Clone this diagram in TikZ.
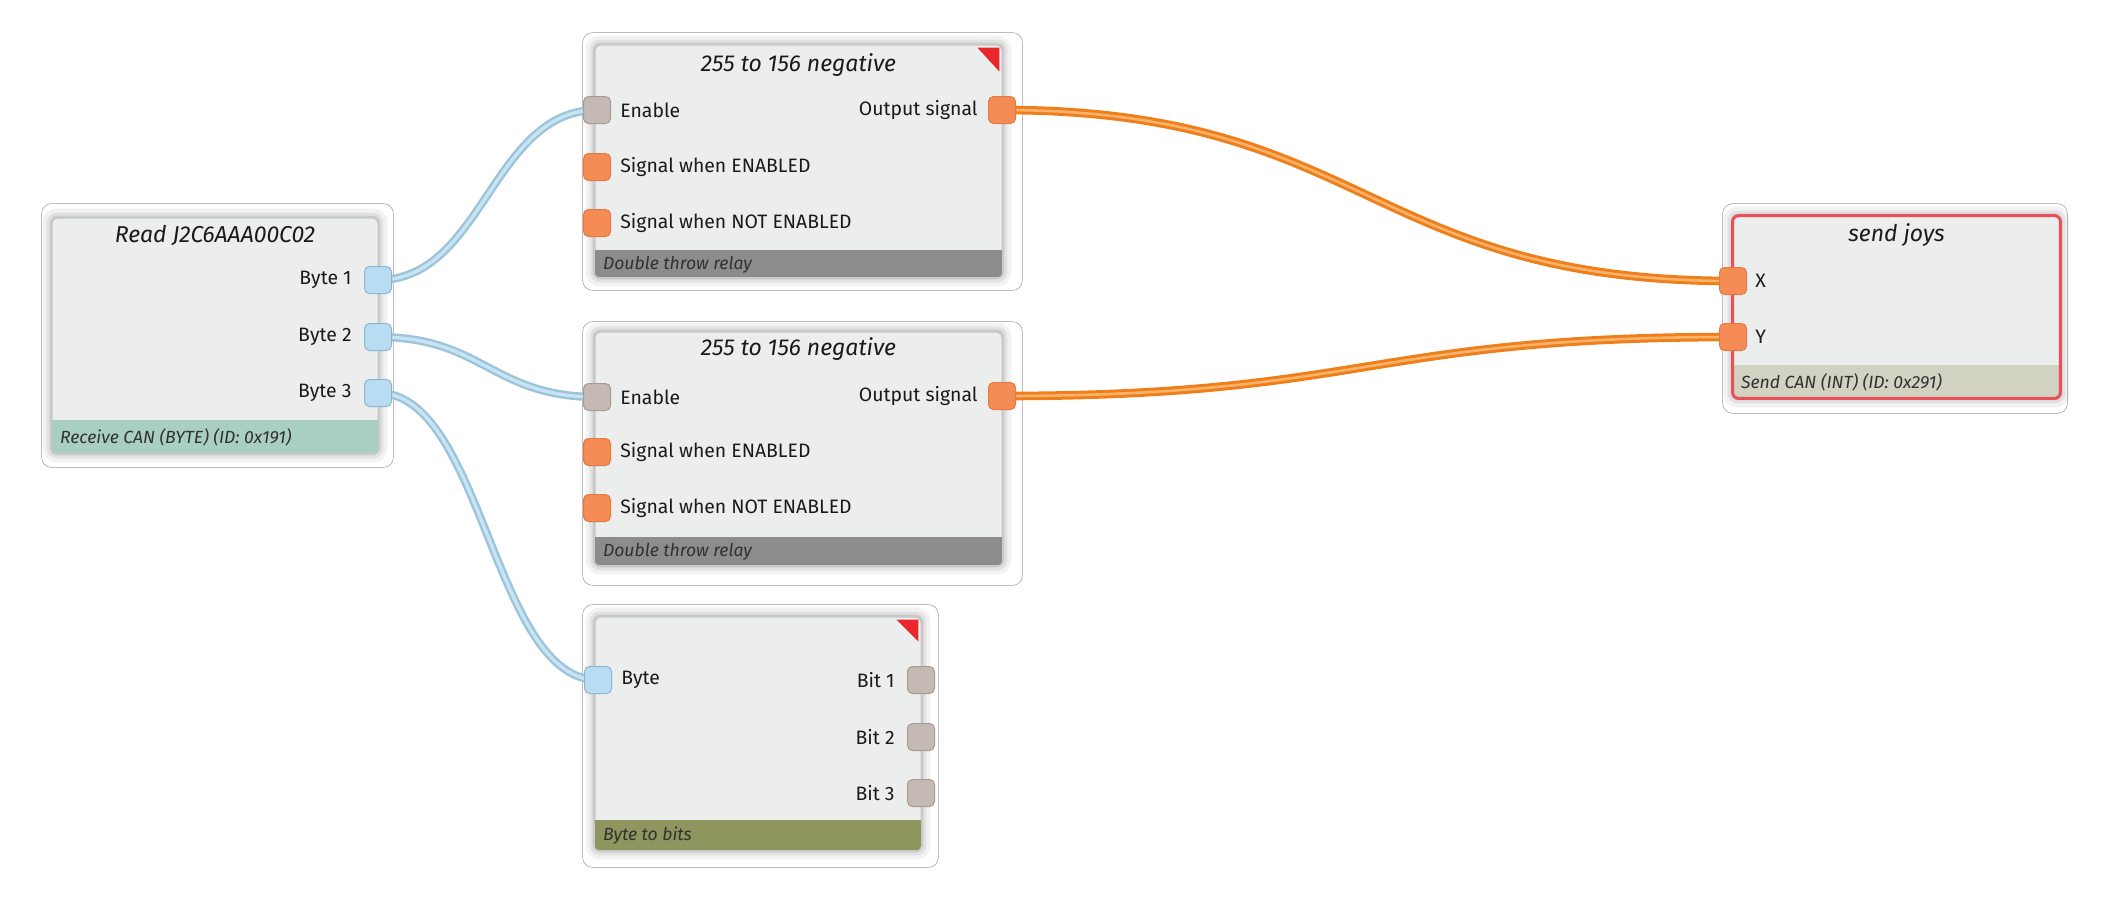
\documentclass[tikz,border=0pt]{standalone}
\usepackage{fontspec}
\setmainfont{Fira Sans}
\usetikzlibrary{calc}
\definecolor{boxfill}{HTML}{ECEDED}
\definecolor{boxline}{HTML}{C4C4C4}
\definecolor{txt}{HTML}{1A1A1A}
\definecolor{ftread}{HTML}{A8CFC2}
\definecolor{ftrelay}{HTML}{8C8C8C}
\definecolor{ftbits}{HTML}{8E955F}
\definecolor{ftsend}{HTML}{D2D2C2}
\definecolor{sendred}{HTML}{E8505A}
\definecolor{trired}{HTML}{E8262C}
\definecolor{pblue}{HTML}{B8DDF2}
\definecolor{pbluel}{HTML}{8FB6CC}
\definecolor{pgray}{HTML}{C4B9B3}
\definecolor{pgrayl}{HTML}{A59A94}
\definecolor{porange}{HTML}{F58B55}
\definecolor{porangel}{HTML}{E27A45}
\definecolor{wblue}{HTML}{9CC4DA}
\definecolor{wbluein}{HTML}{C8E3F2}
\definecolor{worange}{HTML}{EE7F1A}
\definecolor{woragein}{HTML}{F8B26A}
\tikzset{
  blk/.style={rectangle, rounded corners=3pt, fill=boxfill, draw=boxline, line width=0.5pt, inner sep=0pt},
  portbox/.style={rectangle, rounded corners=2.5pt, minimum width=13.5pt, minimum height=13.5pt, inner sep=0pt, line width=0.5pt},
  bport/.style={portbox, fill=pblue, draw=pbluel},
  gport/.style={portbox, fill=pgray, draw=pgrayl},
  oport/.style={portbox, fill=porange, draw=porangel},
  lbl/.style={font=\fontsize{9.7}{11}\selectfont, text=txt, inner sep=0pt},
  ttl/.style={font=\fontsize{11.5}{13}\selectfont\itshape, text=txt, inner sep=0pt},
  ftr/.style={font=\fontsize{8.8}{10}\selectfont\itshape, text=txt!90, inner sep=0pt, anchor=west},
  bwire/.style={draw=wblue, line width=1.2pt, double=wbluein, double distance=1.7pt},
  owire/.style={draw=worange, line width=1.5pt, double=woragein, double distance=1.3pt},
  frm/.style={draw=black!40, line width=0.25pt, rounded corners=5pt},
}
\newcommand\halo[1]{%
  \fill[black, opacity=0.05, rounded corners=7pt] ($(#1.south west)+(-9,9)$) rectangle ($(#1.north east)+(9,-9)$);
  \fill[black, opacity=0.07, rounded corners=5pt] ($(#1.south west)+(-5,5)$) rectangle ($(#1.north east)+(5,-5)$);
  \fill[black, opacity=0.10, rounded corners=4pt] ($(#1.south west)+(-2,2)$) rectangle ($(#1.north east)+(2,-2)$);
}
\newcommand\footer[3]{%
  \begin{scope}
    \clip[rounded corners=3pt] (#1.south west) rectangle (#1.north east);
    \fill[#2] (#1.south west) rectangle ($(#1.south east)+(0,-#3)$);
  \end{scope}
}
\newcommand\frameit[5]{%
  \draw[frm] ($(#1.south west)+(-#2,#5)$) rectangle ($(#1.north east)+(#4,-#3)$);
}
\begin{document}
\begin{tikzpicture}[x=0.5pt,y=-0.5pt]
\useasboundingbox (0,0) rectangle (2104,901);

% boxes (shape nodes)
\path node[minimum width=163pt, minimum height=117.5pt, inner sep=0pt] (read) at (215,335.5) {}
      node[minimum width=203.5pt, minimum height=116pt, inner sep=0pt] (rel1) at (798.5,161) {}
      node[minimum width=203.5pt, minimum height=116.5pt, inner sep=0pt] (rel2) at (798.5,448.5) {}
      node[minimum width=163pt, minimum height=116.5pt, inner sep=0pt] (btb) at (758,733.5) {}
      node[minimum width=163.5pt, minimum height=91pt, inner sep=0pt] (sj) at (1896.5,307) {};

% outer frames
\frameit{read}{10}{14}{15}{14}
\frameit{rel1}{12}{12}{20}{13}
\frameit{rel2}{12}{10}{20}{20}
\frameit{btb}{12}{12}{17}{17}
\frameit{sj}{10}{12}{7}{15}

% halos
\halo{read}\halo{rel1}\halo{rel2}\halo{btb}\halo{sj}

% box bodies
\node[blk, minimum width=163pt, minimum height=117.5pt] at (read) {};
\node[blk, minimum width=203.5pt, minimum height=116pt] at (rel1) {};
\node[blk, minimum width=203.5pt, minimum height=116.5pt] at (rel2) {};
\node[blk, minimum width=163pt, minimum height=116.5pt] at (btb) {};
\node[blk, minimum width=163.5pt, minimum height=91pt] at (sj) {};

% footers
\footer{read}{ftread}{33}
\footer{rel1}{ftrelay}{27}
\footer{rel2}{ftrelay}{28}
\footer{btb}{ftbits}{30}
\footer{sj}{ftsend}{33}
\draw[sendred, line width=1.5pt, rounded corners=3pt] (sj.south west) rectangle (sj.north east);

% red corner markers
\fill[trired] ($(rel1.north east)+(-25,3)$) -- ($(rel1.north east)+(-3,3)$) -- ($(rel1.north east)+(-3,27)$) -- cycle;
\fill[trired] ($(btb.north east)+(-25,3)$) -- ($(btb.north east)+(-3,3)$) -- ($(btb.north east)+(-3,25)$) -- cycle;

% titles
\node[ttl] (tread) at ($(read.north)+(0,18)$) {Read J2C6AAA00C02};
\node[ttl] (trel1) at ($(rel1.north)+(0,20)$) {255 to 156 negative};
\node[ttl] (trel2) at ($(rel2.north)+(0,17)$) {255 to 156 negative};
\node[ttl] (tsj) at ($(sj.north)+(0,19)$) {send joys};

% footer texts
\node[ftr] (fread) at ($(read.south west)+(8,-16)$) {Receive CAN (BYTE) (ID: 0x191)};
\node[ftr] (frel1) at ($(rel1.south west)+(8,-13)$) {Double throw relay};
\node[ftr] (frel2) at ($(rel2.south west)+(8,-14)$) {Double throw relay};
\node[ftr] (fbtb) at ($(btb.south west)+(8,-15)$) {Byte to bits};
\node[ftr] (fsj) at ($(sj.south west)+(8,-16)$) {Send CAN (INT) (ID: 0x291)};

% port coordinates
\coordinate (pb1) at (378,280);
\coordinate (pb2) at (378,337);
\coordinate (pb3) at (378,393);
\coordinate (pen1) at (597,110);
\coordinate (pse1) at (597,167);
\coordinate (psn1) at (597,223);
\coordinate (pout1) at (1002,110);
\coordinate (pen2) at (597,397);
\coordinate (pse2) at (597,452);
\coordinate (psn2) at (597,508);
\coordinate (pout2) at (1002,396);
\coordinate (pbyte) at (598,680);
\coordinate (pbit1) at (921,680);
\coordinate (pbit2) at (921,737);
\coordinate (pbit3) at (921,793);
\coordinate (px) at (1733,281);
\coordinate (py) at (1733,337);

% wires
\draw[bwire] (pb1) .. controls +(105,0) and +(-105,0) .. (pen1);
\draw[bwire] (pb2) .. controls +(105,0) and +(-105,0) .. (pen2);
\draw[bwire] (pb3) .. controls +(105,0) and +(-105,0) .. (pbyte);
\draw[owire] (pout1) .. controls +(365,0) and +(-365,0) .. (px);
\draw[owire] (pout2) .. controls +(365,0) and +(-365,0) .. (py);

% ports
\node[bport] (b1) at (pb1) {};
\node[bport] (b2) at (pb2) {};
\node[bport] (b3) at (pb3) {};
\node[gport] (en1) at (pen1) {};
\node[oport] (se1) at (pse1) {};
\node[oport] (sn1) at (psn1) {};
\node[oport] (out1) at (pout1) {};
\node[gport] (en2) at (pen2) {};
\node[oport] (se2) at (pse2) {};
\node[oport] (sn2) at (psn2) {};
\node[oport] (out2) at (pout2) {};
\node[bport] (byte) at (pbyte) {};
\node[gport] (bit1) at (pbit1) {};
\node[gport] (bit2) at (pbit2) {};
\node[gport] (bit3) at (pbit3) {};
\node[oport] (xx) at (px) {};
\node[oport] (yy) at (py) {};

% port labels
\node[lbl, anchor=east] (lb1) at (352,280) {Byte 1};
\node[lbl, anchor=east] (lb2) at (352,337) {Byte 2};
\node[lbl, anchor=east] (lb3) at (352,393) {Byte 3};
\node[lbl, anchor=west] (len1) at (620,110) {Enable};
\node[lbl, anchor=west] (lse1) at (620,167) {Signal when ENABLED};
\node[lbl, anchor=west] (lsn1) at (620,223) {Signal when NOT ENABLED};
\node[lbl, anchor=east] (lout1) at (978,110) {Output signal};
\node[lbl, anchor=west] (len2) at (620,397) {Enable};
\node[lbl, anchor=west] (lse2) at (620,452) {Signal when ENABLED};
\node[lbl, anchor=west] (lsn2) at (620,508) {Signal when NOT ENABLED};
\node[lbl, anchor=east] (lout2) at (978,396) {Output signal};
\node[lbl, anchor=west] (lbyte) at (621,680) {Byte};
\node[lbl, anchor=east] (lbit1) at (895,680) {Bit 1};
\node[lbl, anchor=east] (lbit2) at (895,737) {Bit 2};
\node[lbl, anchor=east] (lbit3) at (895,793) {Bit 3};
\node[lbl, anchor=west] (lx) at (1755,281) {X};
\node[lbl, anchor=west] (ly) at (1755,337) {Y};
\end{tikzpicture}
\end{document}
